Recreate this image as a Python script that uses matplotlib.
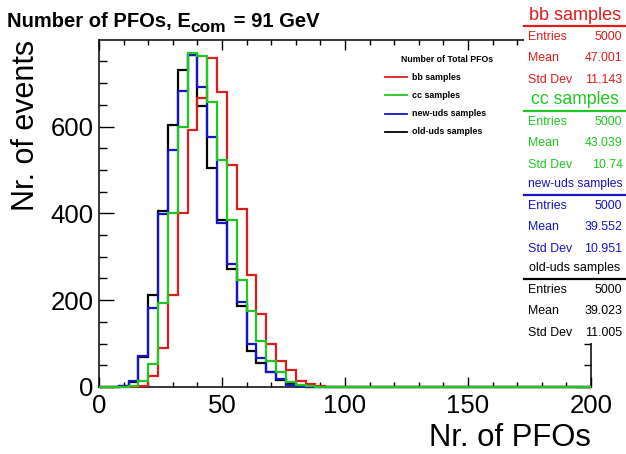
import numpy as np
import matplotlib
matplotlib.use("Agg")
import matplotlib.pyplot as plt
from matplotlib.lines import Line2D
from matplotlib.patches import Rectangle
from matplotlib.ticker import MultipleLocator

plt.rcParams['font.family'] = ['Liberation Sans', 'DejaVu Sans']

# Histogram binning: 50 bins of width 4 over [0, 200]
bin_edges = np.arange(0, 204, 4)
first_bin = 8  # lower edge of the first listed bin

# Bin contents starting at the bin [8, 12)
old_uds = [2, 12, 70, 213, 405, 604, 730, 764, 647, 504, 385, 272, 186, 82, 55, 34, 15, 7, 3, 0, 0, 0]
new_uds = [2, 14, 72, 183, 398, 546, 683, 764, 692, 575, 377, 284, 195, 100, 66, 35, 19, 5, 2, 0, 0, 0]
cc = [0, 3, 14, 53, 193, 401, 598, 769, 763, 657, 523, 385, 247, 176, 107, 61, 34, 11, 5, 2, 0, 0]
bb = [0, 0, 3, 26, 89, 213, 400, 592, 666, 759, 679, 512, 410, 257, 168, 98, 61, 40, 13, 8, 3, 0]

labels = ["bb samples", "cc samples", "new-uds samples", "old-uds samples"]
colors = ["#dd1c1c", "#1ec81e", "#1414c8", "#000000"]
entries = ["5000", "5000", "5000", "5000"]
means = ["47.001", "43.039", "39.552", "39.023"]
stddevs = ["11.143", "10.74", "10.951", "11.005"]

W, H = 626, 454


def full(vals):
    out = np.zeros(len(bin_edges) - 1)
    i0 = first_bin // 4
    out[i0:i0 + len(vals)] = vals
    return out


def fx(px):
    return px / W


def fy(py):
    return 1 - py / H


fig = plt.figure(figsize=(W / 100, H / 100), dpi=100)
ax = fig.add_axes([fx(99), fy(387), (591 - 99) / W, (387 - 40) / H])
ax.set_xlim(0, 200)
ax.set_ylim(0, 799.5)

series = {"old-uds": (old_uds, colors[3]), "new-uds": (new_uds, colors[2]),
          "bb": (bb, colors[0]), "cc": (cc, colors[1])}
for i, (name, (vals, col)) in enumerate(series.items()):
    ax.stairs(full(vals), bin_edges, color=col, lw=1.6, baseline=0,
              clip_on=False, zorder=3 + i)

for s in ax.spines.values():
    s.set_linewidth(1.1)

ax.xaxis.set_major_locator(MultipleLocator(50))
ax.xaxis.set_minor_locator(MultipleLocator(10))
ax.yaxis.set_major_locator(MultipleLocator(200))
ax.yaxis.set_minor_locator(MultipleLocator(50))
ax.tick_params(axis='both', which='both', direction='in', top=True, right=True,
               width=1.0, labelsize=18.5)
ax.tick_params(axis='x', which='major', length=7.5, pad=5)
ax.tick_params(axis='x', which='minor', length=3.75)
ax.tick_params(axis='y', which='major', length=10.8, pad=4)
ax.tick_params(axis='y', which='minor', length=5.4)

# Axis titles
fig.text(fx(591), fy(438), "Nr. of PFOs", ha='right', va='center', fontsize=22.3)
fig.text(fx(26), fy(40), "Nr. of events", ha='center', va='top', rotation=90,
         fontsize=22)

# Title with subscript built from three pieces
renderer = fig.canvas.get_renderer()
t1 = fig.text(fx(7), fy(27), "Number of PFOs, E", fontsize=14.5, fontweight='bold',
              ha='left', va='baseline')
x1 = t1.get_window_extent(renderer).x1
t2 = fig.text(x1 / W - 0.5 / W, fy(32), "com", fontsize=12.5, fontweight='bold',
              ha='left', va='baseline')
x2 = t2.get_window_extent(renderer).x1
fig.text(x2 / W + 2 / W, fy(27), " = 91 GeV", fontsize=14.5, fontweight='bold',
         ha='left', va='baseline')

# Legend
fig.text(fx(447), fy(60), "Number of Total PFOs", fontsize=6.3, fontweight='bold',
         ha='center', va='center')
for lab, col, yy in zip(labels, colors, [77, 95, 114, 132]):
    fig.add_artist(Line2D([fx(385), fx(407)], [fy(yy), fy(yy)], color=col, lw=1.3))
    fig.text(fx(412), fy(yy), lab, fontsize=6.4, fontweight='bold',
             ha='left', va='center')

# Statistics boxes
fig.add_artist(Rectangle((fx(524), fy(343)), (W - 524) / W, 343 / H,
                         transform=fig.transFigure, facecolor='white',
                         edgecolor='none', zorder=5))
header_sizes = [13, 12.7, 8.7, 9]
tops = [15, 100, 184, 268.3]
for lab, col, hs, top, ent, mu, sd in zip(labels, colors, header_sizes, tops,
                                         entries, means, stddevs):
    fig.text(fx(575), fy(top), lab, color=col, fontsize=hs, ha='center',
             va='center', zorder=6)
    ly = top + 10.5
    fig.add_artist(Line2D([fx(524), 1], [fy(ly), fy(ly)], color=col, lw=1.6,
                          zorder=6))
    for k, (name, val) in enumerate([("Entries", ent), ("Mean", mu),
                                     ("Std Dev", sd)]):
        yy = top + 21.7 + k * 21.5
        fig.text(fx(528), fy(yy), name, color=col, fontsize=8.9, ha='left',
                 va='center', zorder=6)
        fig.text(fx(622.5), fy(yy), val, color=col, fontsize=8.9, ha='right',
                 va='center', zorder=6)

fig.savefig("out.png", dpi=100)
